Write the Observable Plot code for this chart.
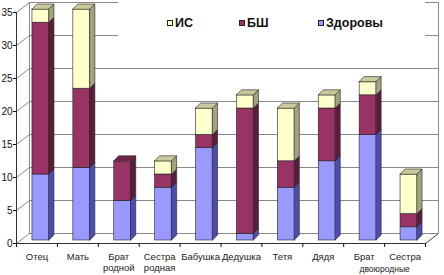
<!DOCTYPE html>
<html><head><meta charset="utf-8">
<script src="https://cdn.jsdelivr.net/npm/d3@7"></script>
<script src="https://cdn.jsdelivr.net/npm/@observablehq/plot@0.6"></script>
<style>
body{margin:0;background:#fff;font-family:"Liberation Sans",Arial,sans-serif;}
#wrap{position:relative;width:444px;height:275px;}
#legend{position:absolute;left:118px;top:0;width:307px;height:52px;background:#fff;}
.it{position:absolute;top:16px;font-weight:bold;font-size:12.5px;color:#111;display:flex;align-items:center;}
.sw{width:4px;height:4px;border:1px solid #222;margin-right:2px;}
</style></head>
<body><div id="wrap"><div id="chart"></div><div id="legend"></div></div>
<script>
const categories = ["Отец","Мать","Брат\nродной","Сестра\nродная","Бабушка","Дедушка","Тетя","Дядя","Брат","Сестра"];
const subLabel = "двоюродные";
const seriesNames = ["Здоровы","БШ","ИС"];
const zdorovy = [10,11,6,8,14,1,8,12,16,2];
const bsh     = [23,12,6,2,2,19,4,8,6,2];
const isv     = [2,12,0,2,4,2,8,2,2,6];
const yTicks = [0,5,10,15,20,25,30,35];
const legendOrder = ["ИС","БШ","Здоровы"];

const colors = {
  "Здоровы": {front:"#9999ff", side:"#4d4db0", top:"#7a7ad6"},
  "БШ":      {front:"#993366", side:"#5a1d3b", top:"#6e2448"},
  "ИС":      {front:"#ffffcc", side:"#a3a381", top:"#c9c99c"}
};

const W=444,H=275, ml=16, mr=19, mt=12, mb=32;
const n = categories.length;
const kx = n/(W-ml-mr), ky = 35/(H-mt-mb);
const hw = 8.5*kx;            // half front width (data units)
const bdx = 4, bdy = -3;      // bar offset (px)
const dpx = 5*kx, dpy = 5*ky; // bar depth (data units)
const wdx = 13, wdy = -10;    // wall depth (px)

const values = {"Здоровы": zdorovy, "БШ": bsh, "ИС": isv};
const segs = [];
categories.forEach((c,i)=>{
  let lo = 0;
  const total = seriesNames.reduce((s,k)=>s+values[k][i],0);
  seriesNames.forEach(k=>{
    const v = values[k][i];
    if (v > 0) {
      const hi = lo + v;
      segs.push({i, k, lo, hi, isTop: hi === total});
      lo = hi;
    }
  });
});

const marks = [
  Plot.ruleY(yTicks, {x1:0, x2:n, dx:wdx, dy:wdy, stroke:"#8a8a8a", strokeWidth:1}),
  Plot.link(yTicks, {x1:0, y1:d=>d, x2:wdx*kx, y2:d=>d - wdy*ky, stroke:"#8a8a8a", strokeWidth:1}),
  Plot.ruleX([0,n], {y1:0, y2:35, dx:wdx, dy:wdy, stroke:"#8a8a8a", strokeWidth:1}),
  Plot.link([0], {x1:n, y1:0, x2:n + wdx*kx, y2:-wdy*ky, stroke:"#444"}),
];

seriesNames.forEach(k=>{
  const S = segs.filter(s=>s.k===k);
  const c = colors[k];
  marks.push(Plot.rect(S, {x1:d=>d.i+0.5-hw, x2:d=>d.i+0.5+hw, y1:"lo", y2:"hi",
    dx:bdx, dy:bdy, fill:c.front, stroke:"#222", strokeWidth:0.6}));
  const side = S.flatMap((d,j)=>[
    {z:j, x:d.i+0.5+hw,     y1:d.lo,     y2:d.hi},
    {z:j, x:d.i+0.5+hw+dpx, y1:d.lo+dpy, y2:d.hi+dpy}
  ]);
  marks.push(Plot.area(side, {x1:"x", y1:"y1", y2:"y2", z:"z", dx:bdx, dy:bdy,
    fill:c.side, stroke:"#222", strokeWidth:0.6}));
  const top = S.filter(d=>d.isTop).flatMap((d,j)=>[
    {z:j, y:d.hi,     x1:d.i+0.5-hw,     x2:d.i+0.5+hw},
    {z:j, y:d.hi+dpy, x1:d.i+0.5-hw+dpx, x2:d.i+0.5+hw+dpx}
  ]);
  marks.push(Plot.area(top, {y1:"y", x1:"x1", x2:"x2", z:"z", dx:bdx, dy:bdy,
    fill:c.top, stroke:"#222", strokeWidth:0.6}));
});

marks.push(
  Plot.ruleY([0], {x1:0, x2:n, stroke:"#333"}),
  Plot.ruleX([0], {y1:0, y2:35, stroke:"#333"}),
  Plot.axisY({ticks:yTicks, tickSize:3, tickPadding:1, fontSize:10, label:null, tickFormat:d=>d}),
  Plot.axisX(d3.range(n+1), {tickSize:4, tickFormat:()=>"", label:null}),
  Plot.axisX(d3.range(n).map(i=>i+0.5), {tickSize:0, tickPadding:9, fontSize:9.5, label:null,
    tickFormat:v=>categories[Math.round(v-0.5)], lineHeight:1.15, fill:"#222"}),
  Plot.text([subLabel], {x:(categories.length-2+categories.length-1)/2+0.5, y:0, dy:26, fontSize:8.5, fill:"#222", text:d=>d})
);

const chart = Plot.plot({
  width:W, height:H, marginLeft:ml, marginRight:mr, marginTop:mt, marginBottom:mb,
  x:{domain:[0,n]}, y:{domain:[0,35]},
  style:{fontFamily:"'Liberation Sans', Arial, sans-serif", fontSize:"10px", color:"#111", background:"#fff", overflow:"visible"},
  marks
});
document.getElementById("chart").appendChild(chart);

const lpos = {"ИС":49, "БШ":121, "Здоровы":200};
const lg = document.getElementById("legend");
legendOrder.forEach(k=>{
  const it = document.createElement("div");
  it.className = "it";
  it.style.left = lpos[k] + "px";
  const sw = document.createElement("span");
  sw.className = "sw"; sw.style.background = colors[k].front;
  it.appendChild(sw);
  it.appendChild(document.createTextNode(k));
  lg.appendChild(it);
});
</script></body></html>
